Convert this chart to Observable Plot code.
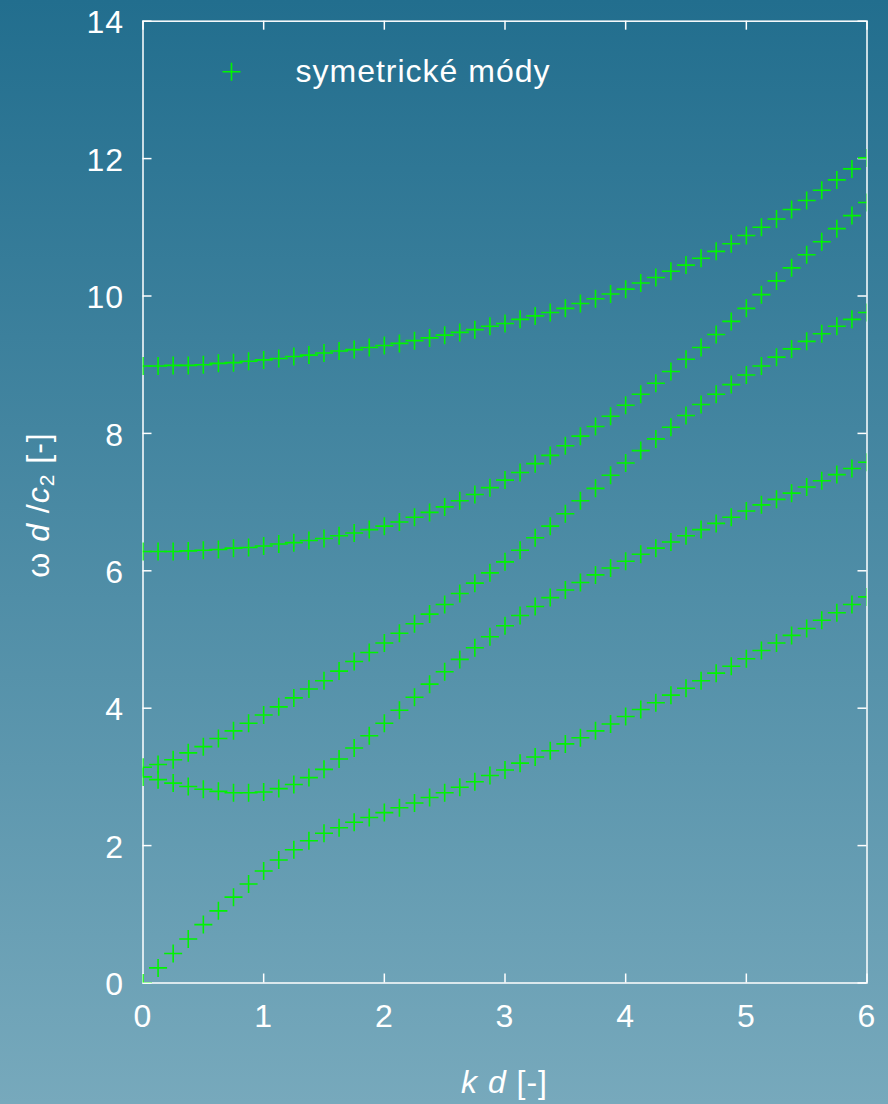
<!DOCTYPE html>
<html>
<head>
<meta charset="utf-8">
<script src="https://cdn.jsdelivr.net/npm/d3@7"></script>
<script src="https://cdn.jsdelivr.net/npm/@observablehq/plot@0.6"></script>
<style>
  html, body { margin: 0; padding: 0; }
  body {
    width: 888px; height: 1104px; overflow: hidden;
    background: linear-gradient(to bottom, #226e8e, #77a9bc);
  }
  svg { display: block; }
  svg text { letter-spacing: 1px; }
</style>
</head>
<body>
<div id="chart"></div>
<script>
// Dimensionless wavenumber k·d
const kd = [0, 0.125, 0.25, 0.375, 0.5, 0.625, 0.75, 0.875, 1, 1.125, 1.25, 1.375, 1.5, 1.625, 1.75, 1.875,
            2, 2.125, 2.25, 2.375, 2.5, 2.625, 2.75, 2.875, 3, 3.125, 3.25, 3.375, 3.5, 3.625, 3.75, 3.875,
            4, 4.125, 4.25, 4.375, 4.5, 4.625, 4.75, 4.875, 5, 5.125, 5.25, 5.375, 5.5, 5.625, 5.75, 5.875, 6];

// Dimensionless frequency ω·d/c2 of the symmetric Lamb modes, lowest to highest
const mode0 = [0, 0.22, 0.43, 0.64, 0.85, 1.05, 1.25, 1.44, 1.63, 1.79, 1.94, 2.07, 2.18, 2.26, 2.34, 2.41,
               2.48, 2.55, 2.62, 2.70, 2.77, 2.85, 2.93, 3.02, 3.10, 3.20, 3.29, 3.38, 3.48, 3.57, 3.67, 3.77,
               3.88, 3.98, 4.08, 4.19, 4.29, 4.40, 4.51, 4.61, 4.72, 4.84, 4.95, 5.06, 5.16, 5.28, 5.39, 5.51, 5.62];
const mode1 = [3.00, 2.96, 2.91, 2.86, 2.82, 2.79, 2.77, 2.77, 2.78, 2.83, 2.89, 2.99, 3.11, 3.26, 3.42, 3.60,
               3.78, 3.97, 4.16, 4.35, 4.53, 4.71, 4.88, 5.04, 5.20, 5.35, 5.48, 5.61, 5.72, 5.83, 5.94, 6.04,
               6.14, 6.24, 6.33, 6.42, 6.51, 6.60, 6.69, 6.78, 6.87, 6.96, 7.04, 7.13, 7.22, 7.31, 7.40, 7.49, 7.58];
const mode2 = [3.14, 3.18, 3.25, 3.35, 3.44, 3.56, 3.67, 3.78, 3.90, 4.02, 4.15, 4.28, 4.40, 4.54, 4.68, 4.81,
               4.95, 5.09, 5.23, 5.37, 5.51, 5.67, 5.82, 5.97, 6.13, 6.30, 6.48, 6.65, 6.83, 7.02, 7.20, 7.39,
               7.57, 7.75, 7.92, 8.09, 8.26, 8.42, 8.57, 8.71, 8.85, 8.98, 9.11, 9.23, 9.34, 9.45, 9.56, 9.66, 9.76];
const mode3 = [6.28, 6.28, 6.28, 6.29, 6.30, 6.31, 6.33, 6.34, 6.36, 6.39, 6.41, 6.44, 6.47, 6.51, 6.55, 6.60,
               6.65, 6.71, 6.78, 6.85, 6.93, 7.02, 7.11, 7.21, 7.32, 7.43, 7.56, 7.68, 7.82, 7.96, 8.10, 8.25,
               8.41, 8.57, 8.73, 8.90, 9.08, 9.25, 9.44, 9.63, 9.82, 10.02, 10.22, 10.41, 10.60, 10.79, 10.98, 11.17, 11.36];
const mode4 = [8.98, 8.98, 8.99, 8.99, 9.00, 9.02, 9.03, 9.05, 9.07, 9.09, 9.12, 9.14, 9.17, 9.20, 9.22, 9.25,
               9.28, 9.31, 9.35, 9.39, 9.43, 9.47, 9.51, 9.56, 9.60, 9.66, 9.71, 9.76, 9.82, 9.89, 9.96, 10.03,
               10.10, 10.19, 10.27, 10.36, 10.45, 10.55, 10.65, 10.76, 10.88, 11.00, 11.12, 11.26, 11.39, 11.54, 11.69, 11.85, 12.01];

const xTicks = [0, 1, 2, 3, 4, 5, 6];
const yTicks = [0, 2, 4, 6, 8, 10, 12, 14];
const legendLabel = "symetrické módy";

// Long table: one row per computed point
const modes = [mode0, mode1, mode2, mode3, mode4];
const rows = [];
modes.forEach((m, i) => m.forEach((w, j) => rows.push({kd: kd[j], w, mode: i})));

// Two-stroke "+" marker (arm length from the symbol size)
const plusMarker = {
  draw(ctx, size) {
    const r = Math.sqrt(size / Math.PI);
    ctx.moveTo(-r, 0); ctx.lineTo(r, 0);
    ctx.moveTo(0, -r); ctx.lineTo(0, r);
  }
};

const W = 888, H = 1104;
const mL = 142.5, mR = 21.5, mT = 20.7, mB = 121.5;
const innerW = W - mL - mR, innerH = H - mT - mB;
const tickLen = 9;
const font = "'Liberation Sans', Arial, Helvetica, sans-serif";
const green = "#00f400";
const markR = 9;

const chart = Plot.plot({
  width: W, height: H,
  marginLeft: mL, marginRight: mR, marginTop: mT, marginBottom: mB,
  style: {background: "linear-gradient(to bottom, #226e8e, #77a9bc)", color: "white", fontFamily: font, fontSize: "32px"},
  x: {domain: [0, 6]},
  y: {domain: [0, 14]},
  marks: [
    Plot.axisX(xTicks, {anchor: "bottom", tickSize: 0, tickPadding: 21, fontSize: 32, tickFormat: d => String(d), label: null}),
    Plot.axisY(yTicks, {anchor: "left", tickSize: 0, tickPadding: 19, fontSize: 32, dy: 2, tickFormat: d => String(d), label: null}),
    // inward ticks on all four sides
    Plot.ruleX(xTicks, {stroke: "white", strokeWidth: 1.5, insetTop: innerH - tickLen}),
    Plot.ruleX(xTicks, {stroke: "white", strokeWidth: 1.5, insetBottom: innerH - tickLen}),
    Plot.ruleY(yTicks, {stroke: "white", strokeWidth: 1.5, insetRight: innerW - tickLen}),
    Plot.ruleY(yTicks, {stroke: "white", strokeWidth: 1.5, insetLeft: innerW - tickLen}),
    Plot.frame({stroke: "white", strokeWidth: 1.5}),
    Plot.dot(rows, {x: "kd", y: "w", symbol: plusMarker, r: markR, fill: "none", stroke: green, strokeWidth: 1.6, clip: true}),
    // key
    Plot.dot([legendLabel], {frameAnchor: "top-left", dx: 88.5, dy: 50.5, symbol: plusMarker, r: markR, fill: "none", stroke: green, strokeWidth: 1.6}),
    Plot.text([legendLabel], {frameAnchor: "top-left", dx: 152.5, dy: 51, lineAnchor: "middle", text: d => d, textAnchor: "start", fill: "white", fontSize: 32})
  ]
});
document.getElementById("chart").appendChild(chart);

// Axis titles with italic symbols and a subscript
const svg = d3.select(chart);
const xTitle = svg.append("text")
  .attr("x", mL + innerW / 2).attr("y", 1093)
  .attr("text-anchor", "middle").attr("fill", "white")
  .attr("font-family", font).attr("font-size", 32);
xTitle.append("tspan").attr("font-style", "italic").text("k");
xTitle.append("tspan").text(" ");
xTitle.append("tspan").attr("font-style", "italic").text("d");
xTitle.append("tspan").text(" [-]");

const yTitle = svg.append("text")
  .attr("transform", "translate(48.5,505) rotate(-90)")
  .attr("text-anchor", "middle").attr("fill", "white")
  .attr("font-family", font).attr("font-size", 32);
yTitle.append("tspan").text("ω ");
yTitle.append("tspan").attr("font-style", "italic").text("d");
yTitle.append("tspan").text(" /");
yTitle.append("tspan").attr("font-style", "italic").text("c");
yTitle.append("tspan").attr("font-size", 21).attr("dy", 5).text("2");
yTitle.append("tspan").attr("dy", -5).text(" [-]");
</script>
</body>
</html>
